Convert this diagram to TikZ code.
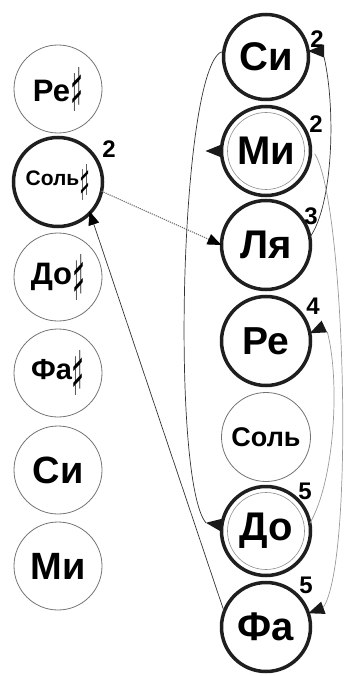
\documentclass[tikz,border=0pt]{standalone}
\usepackage{fontspec}
\setmainfont{Liberation Sans}
\newfontfamily\symfont{DejaVu Sans}
\usepackage{graphicx}
\usetikzlibrary{arrows.meta,calc}
\newcommand\shp[3]{\raisebox{#3}{\resizebox{#1}{#2}{\raisebox{\depth}{\symfont\bfseries ♯}}}}
\newcommand\fs[1]{\fontsize{#1}{#1}\selectfont\bfseries}
\begin{document}
\begin{tikzpicture}[x=1pt,y=-1pt,
  thinc/.style={circle,draw=black!55,line width=0.8pt,minimum size=88pt,inner sep=0pt,outer sep=0pt},
  thickc/.style={circle,draw=black!88,line width=3.5pt,minimum size=89pt,inner sep=0pt,outer sep=0pt},
  innerc/.style={draw=black!45,line width=0.6pt},
  num/.style={font={\fontsize{24}{24}\selectfont\bfseries},inner sep=0pt},
  conn/.style={draw=black!80,line width=0.7pt},
  connL/.style={draw=black!40,line width=0.7pt},
  dotc/.style={draw=black!55,line width=1.1pt,dash pattern=on 1.2pt off 1pt},
  tipA/.style={-{Triangle[length=14pt,width=11pt,black]}},
  tri/.pic={\fill[black!90] (0,0) -- (-16,-6.5) -- (-16,6.5) -- cycle;}]
\useasboundingbox (0,0) rectangle (349,676);
% left column
\node[thinc]  (lRe)  at (58,89)  {\fs{31}Ре\shp{13pt}{44pt}{-10pt}};
\node[thickc] (lSol) at (58,182) {\fs{21}Соль\shp{11pt}{36pt}{-15pt}};
\node[thinc]  (lDo)  at (58,277) {\fs{31}До\shp{13pt}{46pt}{-16pt}};
\node[thinc]  (lFa)  at (58,373) {\fs{29}Фа\shp{13pt}{45pt}{-16pt}};
\node[thinc]  (lSi)  at (58,470) {\fs{38}Си};
\node[thinc]  (lMi)  at (58,566) {\fs{38}Ми};
% right column
\node[thickc,minimum size=85pt] (rSi) at (266,57) {\fs{40}Си};
\node[thickc] (rMi)  at (266,151) {\fs{40}Ми};
\node[thickc] (rLya) at (266,245) {\fs{40}Ля};
\node[thickc] (rRe)  at (266,341) {\fs{39}Ре};
\node[thinc,minimum size=89pt]  (rSol) at (266,437) {\fs{27}Соль};
\node[thickc] (rDo)  at (266,531) {\fs{40}До};
\node[thickc] (rFa)  at (266,627) {\fs{40}Фа};
\draw[innerc] (rMi) circle[radius=38.5pt];
\draw[innerc] (rDo) circle[radius=38.5pt];
% numbers
\node[num] (n1) at (109,149) {2};
\node[num] (n2) at (317,39) {2};
\node[num] (n3) at (316,124) {2};
\node[num] (n4) at (311,216) {3};
\node[num] (n5) at (313,306) {4};
\node[num] (n6) at (305,491) {5};
\node[num] (n7) at (306,585) {5};
% tip coordinates
\coordinate (tMi) at ($(rMi.west)+(-16,0)$);
\coordinate (tDo) at ($(rDo.172)+(-16,-2)$);
\coordinate (tSi) at (rSi.8);
\coordinate (eSi) at ($(rSi.8)+(16,6)$);
\coordinate (tRe) at (rRe.10);
\coordinate (eRe) at ($(rRe.10)+(17.5,-1.3)$);
\coordinate (tFa) at (rFa.18);
\coordinate (eFa) at ($(rFa.18)+(15,-6)$);
% connectors
\draw[dotc,tipA] (lSol.-12) -- (rLya.west);
\draw[conn,tipA,shorten >=-2pt] (rFa.160) -- (lSol.-44);
\draw[conn] (rSi.172) .. controls (180,55) and (170,480) .. (tDo);
\draw[conn] (rLya.10) .. controls (333,205) and (336,110) .. (eSi);
\draw[connL] (rDo.10) .. controls (335,480) and (340,380) .. (eRe);
\draw[connL,shorten <=8pt] (rMi.5) .. controls (345,200) and (355,560) .. (eFa);
% arrowheads
\pic[rotate=180] at (tMi) {tri};
\pic[rotate=172] at (tDo) {tri};
\pic[rotate=180] at (tSi) {tri};
\pic[rotate=205] at (tRe) {tri};
\pic[rotate=200] at (tFa) {tri};
\end{tikzpicture}
\end{document}
